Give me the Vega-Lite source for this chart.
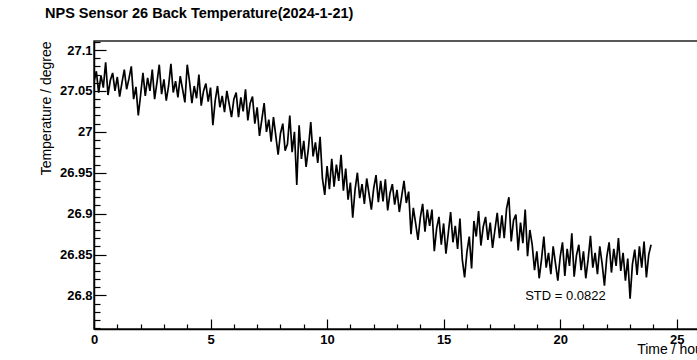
{
 "$schema": "https://vega.github.io/schema/vega-lite/v6.json",
 "width": 613,
 "height": 288,
 "autosize": {"type": "none"},
 "padding": {"left": 94, "top": 41, "right": 0, "bottom": 31},
 "background": "white",
 "title": {"text": "NPS Sensor 26 Back Temperature(2024-1-21)", "anchor": "start", "frame": "group", "dx": -49, "offset": 14, "font": "Liberation Sans", "fontSize": 14.5, "fontWeight": "bold", "color": "black"},
 "config": {"view": {"stroke": "#222", "strokeWidth": 1.5}, "font": "Liberation Sans"},
 "layer": [
  {
   "data": {"values": [
{"t":0.0,"v":27.061},{"t":0.1,"v":27.074},{"t":0.2,"v":27.048},{"t":0.3,"v":27.069},{"t":0.4,"v":27.054},{"t":0.5,"v":27.085},{"t":0.6,"v":27.045},{"t":0.7,"v":27.063},{"t":0.8,"v":27.072},{"t":0.9,"v":27.050},
{"t":1.0,"v":27.067},{"t":1.1,"v":27.043},{"t":1.2,"v":27.060},{"t":1.3,"v":27.076},{"t":1.4,"v":27.052},{"t":1.5,"v":27.065},{"t":1.6,"v":27.080},{"t":1.7,"v":27.040},{"t":1.8,"v":27.055},{"t":1.9,"v":27.020},
{"t":2.0,"v":27.045},{"t":2.1,"v":27.072},{"t":2.2,"v":27.044},{"t":2.3,"v":27.066},{"t":2.4,"v":27.050},{"t":2.5,"v":27.076},{"t":2.6,"v":27.040},{"t":2.7,"v":27.060},{"t":2.8,"v":27.082},{"t":2.9,"v":27.046},
{"t":3.0,"v":27.064},{"t":3.1,"v":27.038},{"t":3.2,"v":27.056},{"t":3.3,"v":27.083},{"t":3.4,"v":27.048},{"t":3.5,"v":27.062},{"t":3.6,"v":27.042},{"t":3.7,"v":27.068},{"t":3.8,"v":27.052},{"t":3.9,"v":27.036},
{"t":4.0,"v":27.082},{"t":4.1,"v":27.061},{"t":4.2,"v":27.035},{"t":4.3,"v":27.056},{"t":4.4,"v":27.041},{"t":4.5,"v":27.070},{"t":4.6,"v":27.032},{"t":4.7,"v":27.050},{"t":4.8,"v":27.059},{"t":4.9,"v":27.037},
{"t":5.0,"v":27.054},{"t":5.1,"v":27.008},{"t":5.2,"v":27.038},{"t":5.3,"v":27.056},{"t":5.4,"v":27.030},{"t":5.5,"v":27.044},{"t":5.6,"v":27.024},{"t":5.7,"v":27.050},{"t":5.8,"v":27.034},{"t":5.9,"v":27.018},
{"t":6.0,"v":27.040},{"t":6.1,"v":27.048},{"t":6.2,"v":27.018},{"t":6.3,"v":27.042},{"t":6.4,"v":27.025},{"t":6.5,"v":27.052},{"t":6.6,"v":27.014},{"t":6.7,"v":27.035},{"t":6.8,"v":27.043},{"t":6.9,"v":27.010},
{"t":7.0,"v":27.030},{"t":7.1,"v":26.995},{"t":7.2,"v":27.015},{"t":7.3,"v":27.035},{"t":7.4,"v":27.000},{"t":7.5,"v":27.015},{"t":7.6,"v":26.988},{"t":7.7,"v":27.018},{"t":7.8,"v":26.995},{"t":7.9,"v":26.972},
{"t":8.0,"v":26.998},{"t":8.1,"v":27.010},{"t":8.2,"v":26.977},{"t":8.3,"v":26.985},{"t":8.4,"v":27.020},{"t":8.5,"v":26.975},{"t":8.6,"v":27.000},{"t":8.7,"v":26.935},{"t":8.8,"v":27.008},{"t":8.9,"v":26.967},
{"t":9.0,"v":26.989},{"t":9.1,"v":26.957},{"t":9.2,"v":26.980},{"t":9.3,"v":27.012},{"t":9.4,"v":26.970},{"t":9.5,"v":26.987},{"t":9.6,"v":26.962},{"t":9.7,"v":26.994},{"t":9.8,"v":26.943},{"t":9.9,"v":26.923},
{"t":10.0,"v":26.958},{"t":10.1,"v":26.930},{"t":10.2,"v":26.967},{"t":10.3,"v":26.933},{"t":10.4,"v":26.960},{"t":10.5,"v":26.940},{"t":10.6,"v":26.972},{"t":10.7,"v":26.928},{"t":10.8,"v":26.955},{"t":10.9,"v":26.917},
{"t":11.0,"v":26.938},{"t":11.1,"v":26.895},{"t":11.2,"v":26.929},{"t":11.3,"v":26.950},{"t":11.4,"v":26.919},{"t":11.5,"v":26.936},{"t":11.6,"v":26.912},{"t":11.7,"v":26.943},{"t":11.8,"v":26.924},{"t":11.9,"v":26.905},
{"t":12.0,"v":26.931},{"t":12.1,"v":26.947},{"t":12.2,"v":26.914},{"t":12.3,"v":26.940},{"t":12.4,"v":26.915},{"t":12.5,"v":26.942},{"t":12.6,"v":26.904},{"t":12.7,"v":26.925},{"t":12.8,"v":26.936},{"t":12.9,"v":26.911},
{"t":13.0,"v":26.929},{"t":13.1,"v":26.902},{"t":13.2,"v":26.921},{"t":13.3,"v":26.940},{"t":13.4,"v":26.913},{"t":13.5,"v":26.927},{"t":13.6,"v":26.875},{"t":13.7,"v":26.907},{"t":13.8,"v":26.888},{"t":13.9,"v":26.868},
{"t":14.0,"v":26.895},{"t":14.1,"v":26.912},{"t":14.2,"v":26.878},{"t":14.3,"v":26.905},{"t":14.4,"v":26.885},{"t":14.5,"v":26.905},{"t":14.6,"v":26.854},{"t":14.7,"v":26.882},{"t":14.8,"v":26.896},{"t":14.9,"v":26.862},
{"t":15.0,"v":26.888},{"t":15.1,"v":26.851},{"t":15.2,"v":26.876},{"t":15.3,"v":26.902},{"t":15.4,"v":26.865},{"t":15.5,"v":26.885},{"t":15.6,"v":26.857},{"t":15.7,"v":26.894},{"t":15.8,"v":26.844},{"t":15.9,"v":26.822},
{"t":16.0,"v":26.853},{"t":16.1,"v":26.872},{"t":16.2,"v":26.833},{"t":16.3,"v":26.891},{"t":16.4,"v":26.872},{"t":16.5,"v":26.903},{"t":16.6,"v":26.861},{"t":16.7,"v":26.884},{"t":16.8,"v":26.896},{"t":16.9,"v":26.868},
{"t":17.0,"v":26.889},{"t":17.1,"v":26.858},{"t":17.2,"v":26.880},{"t":17.3,"v":26.901},{"t":17.4,"v":26.870},{"t":17.5,"v":26.898},{"t":17.6,"v":26.870},{"t":17.7,"v":26.906},{"t":17.8,"v":26.920},{"t":17.9,"v":26.866},
{"t":18.0,"v":26.892},{"t":18.1,"v":26.899},{"t":18.2,"v":26.855},{"t":18.3,"v":26.889},{"t":18.4,"v":26.864},{"t":18.5,"v":26.905},{"t":18.6,"v":26.848},{"t":18.7,"v":26.880},{"t":18.8,"v":26.862},{"t":18.9,"v":26.831},
{"t":19.0,"v":26.854},{"t":19.1,"v":26.821},{"t":19.2,"v":26.844},{"t":19.3,"v":26.872},{"t":19.4,"v":26.834},{"t":19.5,"v":26.852},{"t":19.6,"v":26.826},{"t":19.7,"v":26.860},{"t":19.8,"v":26.839},{"t":19.9,"v":26.818},
{"t":20.0,"v":26.847},{"t":20.1,"v":26.865},{"t":20.2,"v":26.824},{"t":20.3,"v":26.857},{"t":20.4,"v":26.836},{"t":20.5,"v":26.876},{"t":20.6,"v":26.823},{"t":20.7,"v":26.849},{"t":20.8,"v":26.862},{"t":20.9,"v":26.831},
{"t":21.0,"v":26.854},{"t":21.1,"v":26.821},{"t":21.2,"v":26.844},{"t":21.3,"v":26.873},{"t":21.4,"v":26.834},{"t":21.5,"v":26.852},{"t":21.6,"v":26.826},{"t":21.7,"v":26.860},{"t":21.8,"v":26.839},{"t":21.9,"v":26.812},
{"t":22.0,"v":26.847},{"t":22.1,"v":26.865},{"t":22.2,"v":26.828},{"t":22.3,"v":26.857},{"t":22.4,"v":26.836},{"t":22.5,"v":26.870},{"t":22.6,"v":26.830},{"t":22.7,"v":26.852},{"t":22.8,"v":26.818},{"t":22.9,"v":26.845},
{"t":23.0,"v":26.796},{"t":23.1,"v":26.838},{"t":23.2,"v":26.856},{"t":23.3,"v":26.825},{"t":23.4,"v":26.860},{"t":23.5,"v":26.834},{"t":23.6,"v":26.866},{"t":23.7,"v":26.822},{"t":23.8,"v":26.850},{"t":23.9,"v":26.862}
   ]},
   "mark": {"type": "line", "color": "black", "strokeWidth": 1.7, "clip": true},
   "encoding": {
    "x": {"field": "t", "type": "quantitative",
     "scale": {"domain": [0, 26.3], "nice": false, "zero": false},
     "axis": {"title": "Time / hour", "titleAnchor": "end", "titleAlign": "right", "titleFontSize": 14, "titleFontWeight": "normal", "titleColor": "black", "titlePadding": -9,
      "values": [0,1,2,3,4,5,6,7,8,9,10,11,12,13,14,15,16,17,18,19,20,21,22,23,24,25,26],
      "tickCount": 200,
      "labelExpr": "datum.value % 5 == 0 ? format(datum.value, 'd') : ''",
      "labelFontSize": 13, "labelFontWeight": "bold", "labelColor": "black", "labelFlush": false, "labelPadding": 14, "labelOverlap": false,
      "tickColor": "black", "tickWidth": 1.2,
      "tickSize": {"condition": {"test": "datum.value % 5 == 0", "value": -10}, "value": -5},
      "domainColor": "black", "domainWidth": 1.5, "grid": false}},
    "y": {"field": "v", "type": "quantitative",
     "scale": {"domain": [26.759, 27.111], "nice": false, "zero": false},
     "axis": {"title": "Temperature / degree", "titleAnchor": "end", "titleFontSize": 14, "titleFontWeight": "normal", "titleColor": "black", "titlePadding": 6,
      "values": [26.76,26.77,26.78,26.79,26.8,26.81,26.82,26.83,26.84,26.85,26.86,26.87,26.88,26.89,26.9,26.91,26.92,26.93,26.94,26.95,26.96,26.97,26.98,26.99,27,27.01,27.02,27.03,27.04,27.05,27.06,27.07,27.08,27.09,27.1,27.11],
      "tickCount": 200,
      "labelExpr": "round(datum.value*100) % 5 == 0 ? format(datum.value, '.2~f') : ''",
      "labelFontSize": 13, "labelFontWeight": "bold", "labelColor": "black", "labelFlush": false, "labelPadding": 14, "labelOverlap": false,
      "tickColor": "black", "tickWidth": 1.2,
      "tickSize": {"condition": {"test": "round(datum.value*100) % 5 == 0", "value": -12}, "value": -6},
      "domainColor": "black", "domainWidth": 1.5, "grid": false}}
   }
  },
  {
   "data": {"values": [{"t": 18.5, "v": 26.799, "label": "STD = 0.0822"}]},
   "mark": {"type": "text", "align": "left", "baseline": "middle", "font": "Liberation Sans", "fontSize": 13, "color": "black"},
   "encoding": {
    "x": {"field": "t", "type": "quantitative"},
    "y": {"field": "v", "type": "quantitative"},
    "text": {"field": "label"}
   }
  }
 ]
}
